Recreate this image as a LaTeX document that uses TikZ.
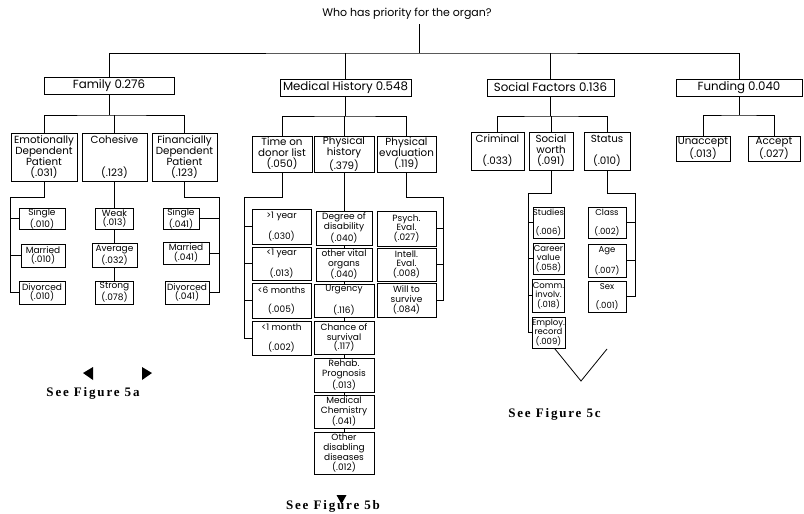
\documentclass[tikz,border=0pt]{standalone}
\usepackage{fontspec}
\setmainfont{Poppins}
\newfontfamily\seefont[LetterSpace=14]{Liberation Serif}
\usetikzlibrary{positioning,calc}

\begin{document}
\begin{tikzpicture}[x=1pt,y=-1pt,line width=0.8pt,
 hdr/.style={draw,inner sep=0pt,minimum height=17,font=\fontsize{11.8}{12}\selectfont},
 sub/.style={draw,inner sep=0pt,align=center,font=\fontsize{10.3}{11}\selectfont},
 leaf/.style={draw,inner sep=0pt,align=center,font=\fontsize{9}{9.2}\selectfont},
 mleaf/.style={leaf,font=\fontsize{9}{9.8}\selectfont},
 sleaf/.style={leaf,font=\fontsize{8.5}{9.3}\selectfont},
 see/.style={inner sep=0pt,font=\seefont\bfseries\fontsize{13}{14}\selectfont}]
 \useasboundingbox (0,0) rectangle (804,514);

 % root and first level
 \node[inner sep=0pt,font=\fontsize{11}{12}\selectfont] (title) at (407,14) {Who has priority for the organ?};
 \coordinate (rtop) at (419,24);
 \coordinate (bus) at (419,53);
 \node[hdr,minimum width=130] (fam) at (109,86) {Family 0.276};
 \node[hdr,minimum width=131] (med) at (345.5,87.5) {Medical History 0.548};
 \node[hdr,minimum width=127] (soc) at (550.5,87.5) {Social Factors 0.136};
 \node[hdr,minimum width=126] (fund) at (739,87.5) {Funding 0.040};
 \draw (rtop) -- (bus);
 \draw (fam.north) |- (bus) -| (fund.north);
 \draw (med.north) -- (med.north |- bus);
 \draw (soc.north) -- (soc.north |- bus);

 % family
 \node[sub,minimum width=66,minimum height=48] (emo) at (44,157) {Emotionally\\Dependent\\Patient\\(.031)};
 \node[sub,minimum width=65,minimum height=48] (coh) at (114.5,157) {Cohesive\\[22pt](.123)};
 \node[sub,minimum width=65,minimum height=48] (fin) at (184.5,157) {Financially\\Dependent\\Patient\\(.123)};
 \coordinate (famb) at (109,115);
 \draw (fam.south) -- (famb);
 \draw (emo.north) |- (famb) -| (fin.north);
 \draw (coh.north) -- (coh.north |- famb);

 \node[leaf,minimum width=46,minimum height=21] (esgl) at (42,218.5) {Single\\(.010)};
 \node[leaf,minimum width=44,minimum height=23] (emar) at (43,255.5) {Married\\(.010)};
 \node[leaf,minimum width=46,minimum height=23] (ediv) at (42,292.5) {Divorced\\(.010)};
 \coordinate (ebar) at (10,197);
 \draw (emo.south) |- (ebar) |- (ediv.west);
 \foreach \n in {esgl,emar} \draw (\n.west) -- (ebar |- \n.west);

 \node[leaf,minimum width=38,minimum height=21] (weak) at (114.5,218.5) {Weak\\(.013)};
 \node[leaf,minimum width=45,minimum height=24] (avg) at (114.5,255) {Average\\(.032)};
 \node[leaf,minimum width=38,minimum height=23] (strong) at (114.5,292.5) {Strong\\(.078)};
 \draw (coh.south) -- (weak.north);
 \draw (weak.south) -- (avg.north);
 \draw (avg.south) -- (strong.north);

 \node[leaf,minimum width=36,minimum height=21] (fsgl) at (181,218.5) {Single\\(.041)};
 \node[leaf,minimum width=46,minimum height=22] (fmar) at (186,253) {Married\\(.041)};
 \node[leaf,minimum width=44,minimum height=23] (fdiv) at (187,292.5) {Divorced\\(.041)};
 \coordinate (fbar) at (219,197);
 \draw (fin.south) |- (fbar) |- (fdiv.east);
 \foreach \n in {fsgl,fmar} \draw (\n.east) -- (fbar |- \n.east);

 % medical history
 \node[sub,minimum width=60,minimum height=36] (time) at (282,154) {Time on\\donor list\\(.050)};
 \node[sub,minimum width=60,minimum height=36] (phys) at (344,154) {Physical\\history\\(.379)};
 \node[sub,minimum width=59,minimum height=36] (peval) at (406.5,154) {Physical\\evaluation\\(.119)};
 \coordinate (medb) at (345.5,116);
 \draw (med.south) -- (medb);
 \draw (time.north) |- (medb) -| (peval.north);
 \draw (phys.north) -- (phys.north |- medb);

 \node[mleaf,minimum width=59,minimum height=35] (yr1) at (281.5,226.5) {>1 year\\[10pt](.030)};
 \node[mleaf,minimum width=59,minimum height=33] (yr0) at (281.5,263.5) {<1 year\\[10pt](.013)};
 \node[mleaf,minimum width=59,minimum height=35] (mo6) at (281.5,300.5) {<6 months\\[10pt](.005)};
 \node[mleaf,minimum width=59,minimum height=34] (mo1) at (281.5,338) {<1 month\\[10pt](.002)};
 \coordinate (tbar) at (244,197);
 \draw (time.south) |- (tbar) |- (mo1.west);
 \foreach \n in {yr1,yr0,mo6} \draw (\n.west) -- (tbar |- \n.west);

 \node[mleaf,minimum width=56,minimum height=34] (deg) at (344,228) {Degree of\\disability\\(.040)};
 \node[mleaf,minimum width=56,minimum height=33] (vital) at (344,264.5) {other vital\\organs\\(.040)};
 \node[mleaf,minimum width=60,minimum height=33] (urg) at (344,300.5) {Urgency\\[10pt](.116)};
 \node[mleaf,minimum width=60,minimum height=33] (chance) at (344,337.5) {Chance of\\survival\\(.117)};
 \node[mleaf,minimum width=60,minimum height=34] (rehab) at (344,375) {Rehab.\\Prognosis\\(.013)};
 \node[mleaf,minimum width=60,minimum height=33] (chem) at (344,411.5) {Medical\\Chemistry\\(.041)};
 \node[mleaf,minimum width=60,minimum height=42] (other) at (344,453) {Other\\disabling\\diseases\\(.012)};
 \draw (phys.south) -- (deg.north);
 \draw (deg.south) -- (vital.north);
 \draw (vital.south) -- (urg.north);
 \draw (urg.south) -- (chance.north);
 \draw (chance.south) -- (rehab.north);
 \draw (rehab.south) -- (chem.north);
 \draw (chem.south) -- (other.north);

 \node[mleaf,minimum width=59,minimum height=35] (psych) at (406.5,228.5) {Psych.\\Eval.\\(.027)};
 \node[mleaf,minimum width=59,minimum height=33] (intell) at (406.5,264.5) {Intell.\\Eval.\\(.008)};
 \node[mleaf,minimum width=59,minimum height=34] (will) at (406.5,300) {Will to\\survive\\(.084)};
 \coordinate (pbar) at (443,197);
 \draw (peval.south) |- (pbar) |- (will.east);
 \foreach \n in {psych,intell} \draw (\n.east) -- (pbar |- \n.east);

 % social factors
 \node[sub,minimum width=53,minimum height=38] (crim) at (497.5,151) {Criminal\\[11pt](.033)};
 \node[sub,minimum width=44,minimum height=38] (worth) at (551,151) {Social\\worth\\(.091)};
 \node[sub,minimum width=46,minimum height=38] (stat) at (607,151) {Status\\[11pt](.010)};
 \coordinate (socb) at (550.5,116);
 \draw (soc.south) -- (socb);
 \draw (crim.north) |- (socb) -| (stat.north);
 \draw (worth.north) -- (worth.north |- socb);

 \node[sleaf,minimum width=31,minimum height=31] (stud) at (548.5,222.5) {Studies\\[9.5pt](.006)};
 \node[sleaf,minimum width=31,minimum height=31] (career) at (548.5,258.5) {Career\\value\\(.058)};
 \node[sleaf,minimum width=31,minimum height=33] (comm) at (548.5,295.5) {Comm.\\involv.\\(.018)};
 \node[sleaf,minimum width=31,minimum height=31] (emp) at (548.5,332.5) {Employ.\\record\\(.009)};
 \coordinate (wbar) at (528,193);
 \draw (worth.south) |- (wbar) |- (emp.west);
 \foreach \n in {stud,career,comm} \draw (\n.west) -- (wbar |- \n.west);

 \node[sleaf,minimum width=38,minimum height=31] (class) at (607,222.5) {Class\\[9.5pt](.002)};
 \node[sleaf,minimum width=38,minimum height=33] (age) at (607,260.5) {Age\\[9.5pt](.007)};
 \node[sleaf,minimum width=38,minimum height=31] (sex) at (607,296.5) {Sex\\[9.5pt](.001)};
 \coordinate (sbar) at (635,193);
 \draw (stat.south) |- (sbar) |- (sex.east);
 \foreach \n in {class,age} \draw (\n.east) -- (sbar |- \n.east);

 \coordinate (vtip) at (581,381);
 \draw ([xshift=6]emp.south) -- (vtip) -- ++(26,-32);

 % funding
 \node[sub,minimum width=54,minimum height=25] (unacc) at (703,148.5) {Unaccept\\(.013)};
 \node[sub,minimum width=52,minimum height=25] (acc) at (774,148.5) {Accept\\(.027)};
 \coordinate (fundb) at (739,115);
 \draw (fund.south) -- (fundb);
 \draw (unacc.north) |- (fundb) -| (acc.north);

 % references to the other figures
 \node[see] (see5a) at (93,393) {See Figure 5a};
 \node[see] (see5b) at (333,506) {See Figure 5b};
 \node[see] (see5c) at (554.5,414) {See Figure 5c};
 \fill (83,373) -- (93,367) -- (93,380) -- cycle;
 \fill (152,373) -- (142,367) -- (142,380) -- cycle;
 \fill (336.5,495) -- (346.5,495) -- (341.5,504) -- cycle;
\end{tikzpicture}
\end{document}
